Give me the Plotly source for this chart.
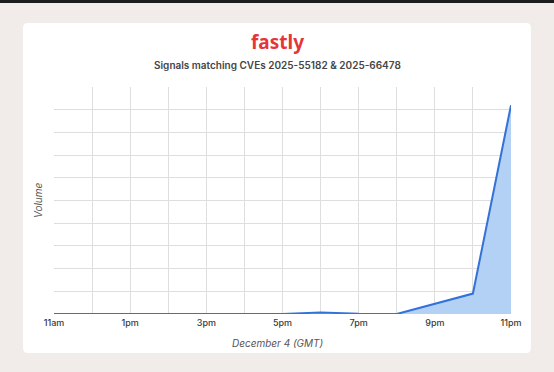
import plotly.graph_objects as go

# ---- data ----
hours = [11, 12, 13, 14, 15, 16, 17, 18, 19, 20, 21, 22, 23]
volume = [0, 0, 0, 0, 0, 0, 0, 0.07, 0.01, 0, 0.45, 0.9, 9.2]
tick_hours = [11, 12, 13, 14, 15, 16, 17, 18, 19, 20, 21, 22, 23]
tick_labels = ["11am", "", "1pm", "", "3pm", "", "5pm", "", "7pm", "", "9pm", "", "11pm"]
y_grid = [1, 2, 3, 4, 5, 6, 7, 8, 9]

W, H = 554, 372
L, R, T, B = 54, 43, 87, 58
pw, ph = W - L - R, H - T - B

def px_x(x):
    return (x - L) / pw

def px_y(y):
    return 1 - (y - T) / ph

BG = "#f1ecea"
FONT = "Inter"

fig = go.Figure()
fig.add_trace(go.Scatter(
    x=hours, y=volume, mode="lines",
    line=dict(color="#3272d9", width=2),
    fill="tozeroy", fillcolor="#b3d0f5",
    cliponaxis=False, hoverinfo="skip", showlegend=False,
))

# card with rounded corners (pixel coordinates converted to paper)
x0, x1, y0, y1, r = 23, 531, 23, 353, 5
def P(x, y):
    return f"{px_x(x):.5f},{px_y(y):.5f}"
path = (f"M {P(x0+r,y0)} L {P(x1-r,y0)} Q {P(x1,y0)} {P(x1,y0+r)} "
        f"L {P(x1,y1-r)} Q {P(x1,y1)} {P(x1-r,y1)} L {P(x0+r,y1)} "
        f"Q {P(x0,y1)} {P(x0,y1-r)} L {P(x0,y0+r)} Q {P(x0,y0)} {P(x0+r,y0)} Z")

shapes = [
    dict(type="path", xref="paper", yref="paper", path=path,
         fillcolor="white", line=dict(width=0), layer="below"),
    dict(type="rect", xref="paper", yref="paper",
         x0=px_x(0), x1=px_x(W), y0=px_y(0), y1=px_y(3),
         fillcolor="#1c1c1c", line=dict(width=0), layer="below"),
]

annotations = [
    dict(text="fastly", xref="paper", yref="paper", x=px_x(277), y=px_y(42),
         showarrow=False, xanchor="center", yanchor="middle",
         font=dict(family="Noto Sans", size=19, color="#e4353b", weight=700)),
    dict(text="Signals matching CVEs 2025-55182 & 2025-66478", xref="paper", yref="paper",
         x=px_x(277), y=px_y(65), showarrow=False, xanchor="center", yanchor="middle",
         font=dict(family=FONT, size=10, color="#454545", weight=600)),
    dict(text="<i>Volume</i>", xref="paper", yref="paper", x=px_x(38), y=px_y(201),
         showarrow=False, xanchor="center", yanchor="middle", textangle=-90,
         font=dict(family=FONT, size=10, color="#555555")),
    dict(text="<i>December 4 (GMT)</i>", xref="paper", yref="paper", x=px_x(277), y=px_y(343),
         showarrow=False, xanchor="center", yanchor="middle",
         font=dict(family=FONT, size=10, color="#555555")),
]

fig.update_layout(
    width=W, height=H, margin=dict(l=L, r=R, t=T, b=B),
    paper_bgcolor=BG, plot_bgcolor="white",
    shapes=shapes, annotations=annotations,
    xaxis=dict(range=[11, 23], tickvals=tick_hours, ticktext=tick_labels,
               showgrid=True, gridcolor="#dedede", gridwidth=1, zeroline=False,
               showline=False, ticks="", ticklabelstandoff=2,
               tickfont=dict(family=FONT, size=9, color="#3a3a3a", weight=500),
               fixedrange=True),
    yaxis=dict(range=[0, 10], tickvals=y_grid, showticklabels=False,
               showgrid=True, gridcolor="#dedede", gridwidth=1, zeroline=False,
               showline=False, ticks="", fixedrange=True),
)

fig.write_html("out.html", config={"displayModeBar": False},
               post_script="document.body.style.margin='0';document.body.style.background='#f1ecea';")
